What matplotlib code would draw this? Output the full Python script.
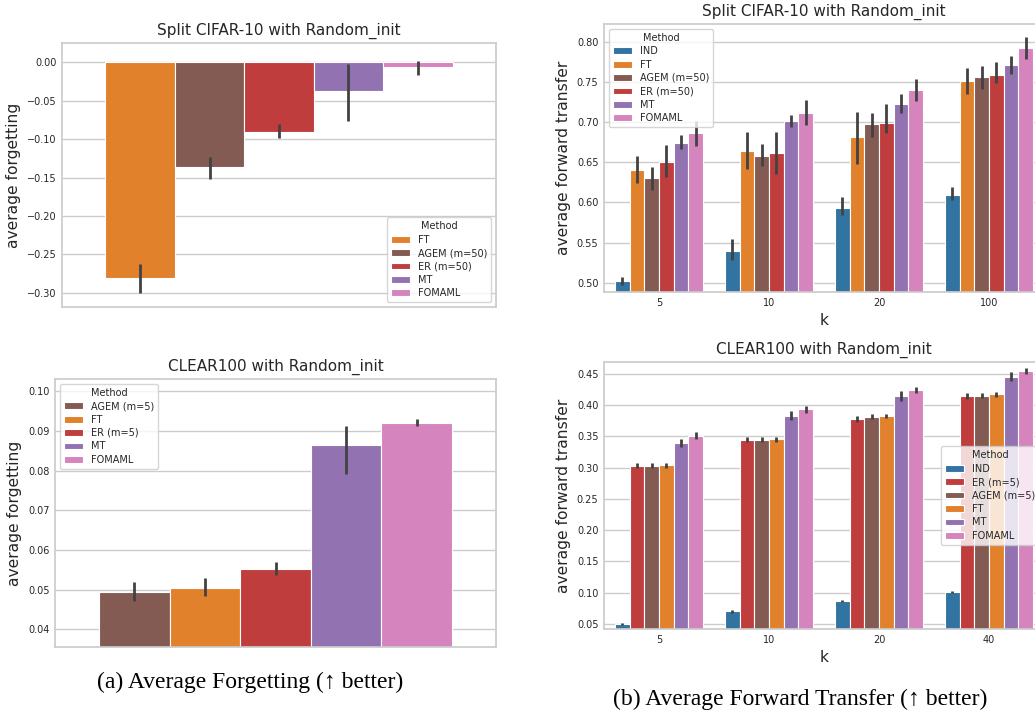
"""
Forgetting / forward-transfer bar charts (Split CIFAR-10 and CLEAR100).
Means and CI bounds read off the published figure.
"""

import colorsys

import numpy as np
import matplotlib
matplotlib.use("Agg")
import matplotlib.pyplot as plt
import matplotlib.colors as mcolors

# ── Style ──────────────────────────────────────────────────────────────────────
plt.rcParams.update({
    "font.family":       "DejaVu Sans",
    "text.color":        "0.15",
    "axes.labelcolor":   "0.15",
    "axes.edgecolor":    "0.8",
    "axes.linewidth":    1.25,
    "grid.color":        "0.8",
    "grid.linewidth":    1.0,
    "xtick.color":       "0.15",
    "ytick.color":       "0.15",
    "xtick.major.size":  0,
    "ytick.major.size":  0,
    "xtick.major.pad":   4,
    "ytick.major.pad":   4,
})

TICK_FS   = 7
LABEL_FS  = 11.2
TITLE_FS  = 11
LEGEND_FS = 7
ERR_COLOR = "0.26"

# ── Data ───────────────────────────────────────────────────────────────────────

# (a) top: Split CIFAR-10 average forgetting
cifar_fgt_methods = ["FT", "AGEM (m=50)", "ER (m=50)", "MT", "FOMAML"]
cifar_fgt_mean    = [-0.2800, -0.1365, -0.0910, -0.0374, -0.0065]
cifar_fgt_lo      = [-0.3000, -0.1520, -0.0990, -0.0765, -0.0165]
cifar_fgt_hi      = [-0.2620, -0.1230, -0.0804, -0.0022,  0.0017]

# (a) bottom: CLEAR100 average forgetting
clear_fgt_methods = ["AGEM (m=5)", "FT", "ER (m=5)", "MT", "FOMAML"]
clear_fgt_mean    = [0.0493, 0.0504, 0.0552, 0.0865, 0.0919]
clear_fgt_lo      = [0.0470, 0.0484, 0.0537, 0.0791, 0.0912]
clear_fgt_hi      = [0.0519, 0.0528, 0.0570, 0.0913, 0.0930]

# (b) top: Split CIFAR-10 forward transfer, rows = methods, cols = k
cifar_k       = ["5", "10", "20", "100"]
cifar_methods = ["IND", "FT", "AGEM (m=50)", "ER (m=50)", "MT", "FOMAML"]
cifar_fwt_mean = [
    [0.5017, 0.5390, 0.5935, 0.6093],
    [0.6405, 0.6637, 0.6812, 0.7510],
    [0.6297, 0.6580, 0.6970, 0.7560],
    [0.6500, 0.6617, 0.6990, 0.7590],
    [0.6737, 0.7007, 0.7220, 0.7706],
    [0.6858, 0.7111, 0.7394, 0.7917],
]
cifar_fwt_lo = [
    [0.4975, 0.5287, 0.5840, 0.6035],
    [0.6240, 0.6410, 0.6475, 0.7348],
    [0.6150, 0.6450, 0.6816, 0.7406],
    [0.6320, 0.6350, 0.6858, 0.7480],
    [0.6670, 0.6940, 0.7115, 0.7597],
    [0.6700, 0.6962, 0.7265, 0.7789],
]
cifar_fwt_hi = [
    [0.5070, 0.5540, 0.6070, 0.6193],
    [0.6580, 0.6870, 0.7120, 0.7676],
    [0.6440, 0.6725, 0.7115, 0.7700],
    [0.6710, 0.6880, 0.7220, 0.7743],
    [0.6837, 0.7090, 0.7348, 0.7826],
    [0.7016, 0.7270, 0.7540, 0.8059],
]

# (b) bottom: CLEAR100 forward transfer
clear_k       = ["5", "10", "20", "40"]
clear_methods = ["IND", "ER (m=5)", "AGEM (m=5)", "FT", "MT", "FOMAML"]
clear_fwt_mean = [
    [0.0505, 0.0702, 0.0867, 0.1016],
    [0.3027, 0.3442, 0.3777, 0.4139],
    [0.3022, 0.3447, 0.3804, 0.4149],
    [0.3038, 0.3458, 0.3820, 0.4170],
    [0.3394, 0.3820, 0.4144, 0.4452],
    [0.3506, 0.3931, 0.4235, 0.4543],
]
clear_fwt_lo = [
    [0.0489, 0.0681, 0.0851, 0.1000],
    [0.2985, 0.3405, 0.3729, 0.4090],
    [0.2985, 0.3405, 0.3772, 0.4112],
    [0.3000, 0.3410, 0.3788, 0.4133],
    [0.3330, 0.3760, 0.4070, 0.4389],
    [0.3463, 0.3867, 0.4192, 0.4500],
]
clear_fwt_hi = [
    [0.0520, 0.0723, 0.0888, 0.1032],
    [0.3070, 0.3485, 0.3830, 0.4192],
    [0.3070, 0.3490, 0.3851, 0.4197],
    [0.3080, 0.3495, 0.3851, 0.4213],
    [0.3463, 0.3900, 0.4224, 0.4532],
    [0.3560, 0.3990, 0.4283, 0.4591],
]

# ── Colours (tab10, desaturated like seaborn's barplot) ────────────────────────
BASE_COLORS = {
    "IND":    "#1f77b4",
    "FT":     "#ff7f0e",
    "AGEM":   "#8c564b",
    "ER":     "#d62728",
    "MT":     "#9467bd",
    "FOMAML": "#e377c2",
}


def desaturate(color, prop=0.75):
    r, g, b = mcolors.to_rgb(color)
    h, l, s = colorsys.rgb_to_hls(r, g, b)
    return colorsys.hls_to_rgb(h, l, s * prop)


def method_color(name):
    return desaturate(BASE_COLORS[name.split(" ")[0]])


# ── Drawing helpers ────────────────────────────────────────────────────────────

def grouped_bars(ax, groups, methods, mean, lo, hi):
    """Seaborn-style hue bars: each group spans 0.8 of a category slot."""
    mean, lo, hi = np.atleast_2d(mean), np.atleast_2d(lo), np.atleast_2d(hi)
    n = len(methods)
    width = 0.8 / n
    x = np.arange(len(groups))
    for i, m in enumerate(methods):
        pos = x - 0.4 + width * (i + 0.5)
        ax.bar(pos, mean[i], width=width, color=method_color(m),
               edgecolor="white", linewidth=0.8, label=m, zorder=2)
        ax.vlines(pos, lo[i], hi[i], color=ERR_COLOR, linewidth=2.0, zorder=3)
    ax.set_xlim(-0.5, len(groups) - 0.5)
    ax.set_xticks(x)
    ax.set_xticklabels(groups)
    ax.grid(axis="y", zorder=0)
    ax.set_axisbelow(True)
    ax.tick_params(labelsize=TICK_FS)


def style_legend(ax, loc):
    leg = ax.legend(title="Method", loc=loc, fontsize=LEGEND_FS,
                    title_fontsize=LEGEND_FS, labelspacing=0.35,
                    framealpha=0.8, edgecolor="0.8")
    return leg


def px_axes(fig, left, top, right, bottom, W=1035, H=713):
    return fig.add_axes([left / W, 1 - bottom / H, (right - left) / W, (bottom - top) / H])


# ── Figure ─────────────────────────────────────────────────────────────────────
fig = plt.figure(figsize=(10.35, 7.13), dpi=100)

# (a) top
ax = px_axes(fig, 62, 43, 496, 307)
grouped_bars(ax, [""], cifar_fgt_methods,
             [[v] for v in cifar_fgt_mean], [[v] for v in cifar_fgt_lo],
             [[v] for v in cifar_fgt_hi])
ax.set_ylim(-0.3183, 0.0248)
ax.set_xticks([])
ax.set_title("Split CIFAR-10 with Random_init", fontsize=TITLE_FS)
ax.set_ylabel("average forgetting", fontsize=LABEL_FS)
style_legend(ax, "lower right")

# (a) bottom
ax = px_axes(fig, 55, 379, 496, 647)
grouped_bars(ax, [""], clear_fgt_methods,
             [[v] for v in clear_fgt_mean], [[v] for v in clear_fgt_lo],
             [[v] for v in clear_fgt_hi])
ax.set_ylim(0.0355, 0.1031)
ax.set_xticks([])
ax.set_title("CLEAR100 with Random_init", fontsize=TITLE_FS)
ax.set_ylabel("average forgetting", fontsize=LABEL_FS)
style_legend(ax, "upper left")

# (b) top
ax = px_axes(fig, 604, 24, 1044, 292)
grouped_bars(ax, cifar_k, cifar_methods, cifar_fwt_mean, cifar_fwt_lo, cifar_fwt_hi)
ax.set_ylim(0.4884, 0.822)
ax.set_title("Split CIFAR-10 with Random_init", fontsize=TITLE_FS)
ax.set_ylabel("average forward transfer", fontsize=LABEL_FS)
ax.set_xlabel("k", fontsize=LABEL_FS)
style_legend(ax, "upper left")

# (b) bottom
ax = px_axes(fig, 604, 362, 1044, 629)
grouped_bars(ax, clear_k, clear_methods, clear_fwt_mean, clear_fwt_lo, clear_fwt_hi)
ax.set_ylim(0.042, 0.4686)
ax.set_title("CLEAR100 with Random_init", fontsize=TITLE_FS)
ax.set_ylabel("average forward transfer", fontsize=LABEL_FS)
ax.set_xlabel("k", fontsize=LABEL_FS)
style_legend(ax, "center right")

# Sub-figure captions
cap_font = ["Liberation Serif", "DejaVu Serif"]
fig.text(250.5 / 1035, 1 - 682 / 713, "(a) Average Forgetting (\u2191 better)",
         family=cap_font, fontsize=17, color="black", ha="center", va="center")
fig.text(800 / 1035, 1 - 699 / 713, "(b) Average Forward Transfer (\u2191 better)",
         family=cap_font, fontsize=17, color="black", ha="center", va="center")

fig.savefig("out.png", dpi=100)
